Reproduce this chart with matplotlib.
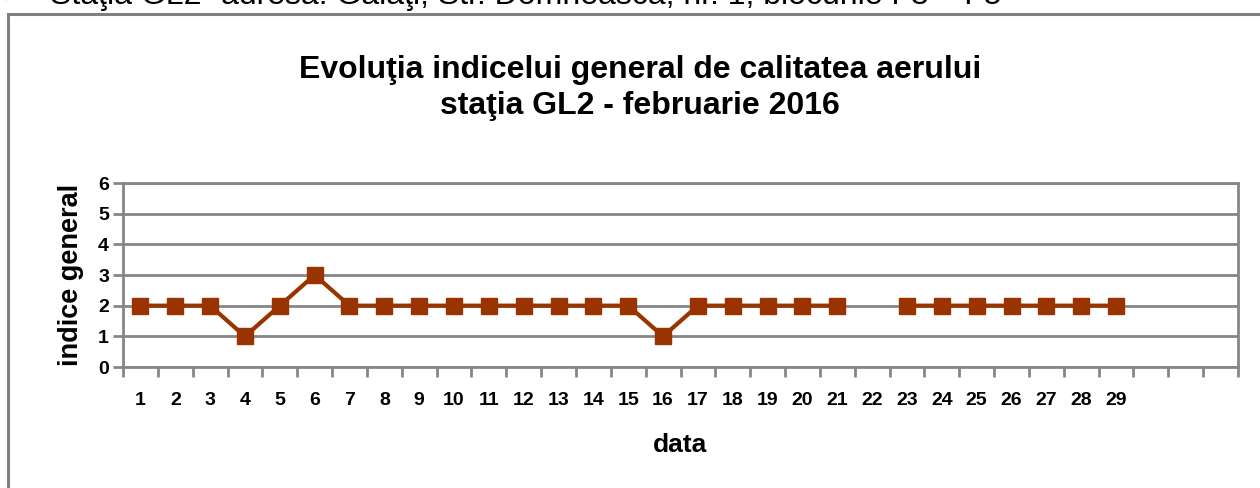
import numpy as np
import matplotlib.pyplot as plt
from matplotlib.patches import Rectangle

plt.rcParams['font.family'] = ['Liberation Sans', 'DejaVu Sans']

zile = [str(i) for i in range(1, 30)]
indice = [2, 2, 2, 1, 2, 3, 2, 2, 2, 2, 2, 2, 2, 2, 2, 1, 2, 2, 2, 2, 2,
          np.nan, 2, 2, 2, 2, 2, 2, 2]
nr_categorii = 32

fig = plt.figure(figsize=(12.6, 4.88), dpi=100)

# chenarul exterior al diagramei
fig.patches.append(Rectangle((8 / 1260, -0.1), 1.1, 1 - 14 / 488 + 0.1,
                             transform=fig.transFigure, fill=False,
                             edgecolor='#808080', linewidth=2.2))
fig.text(3 / 1260, 1 - 4 / 488, '➢', fontsize=20, va='baseline', ha='left',
         family=['DejaVu Sans'])
fig.text(50 / 1260, 1 - 4 / 488,
         'Staţia GL2- adresa: Galaţi, Str. Domnească, nr. 1, blocurile F3 – F5',
         fontsize=23, va='baseline', ha='left')

ax = fig.add_axes([123 / 1260, 1 - 367 / 488, (1238 - 123) / 1260, (367 - 183) / 488])

x = np.arange(1, len(indice) + 1)
ax.plot(x, indice, color='#993300', linewidth=3, marker='s', markersize=11.5,
        markeredgecolor='#993300', zorder=3, clip_on=False)

ax.set_xlim(0.5, nr_categorii + 0.5)
ax.set_ylim(0, 6)
ax.set_yticks(range(0, 7))
ax.set_xticks(x)
ax.set_xticklabels(zile)
ax.set_xticks(np.arange(0.5, nr_categorii + 1), minor=True)
ax.tick_params(axis='x', which='major', length=0, pad=18)
ax.tick_params(axis='x', which='minor', length=7, width=2, color='#868686', direction='out')
ax.tick_params(axis='y', length=7, width=2, color='#868686', direction='out', pad=3)
for lab in ax.get_xticklabels() + ax.get_yticklabels():
    lab.set_fontweight('bold')
    lab.set_fontsize(14)

ax.grid(axis='y', color='#868686', linewidth=2)
ax.set_axisbelow(True)
for s in ax.spines.values():
    s.set_color('#868686')
    s.set_linewidth(2)

ax.set_xlabel('data', fontsize=19, fontweight='bold', labelpad=17)
ax.set_ylabel('indice general', fontsize=19.5, fontweight='bold', labelpad=10)

fig.text(640 / 1260, 1 - 70 / 488, 'Evoluţia indicelui general de calitatea aerului',
         fontsize=23, fontweight='bold', ha='center', va='center')
fig.text(640 / 1260, 1 - 106 / 488, 'staţia GL2 - februarie 2016',
         fontsize=23, fontweight='bold', ha='center', va='center')

fig.savefig('out.png', dpi=100)
